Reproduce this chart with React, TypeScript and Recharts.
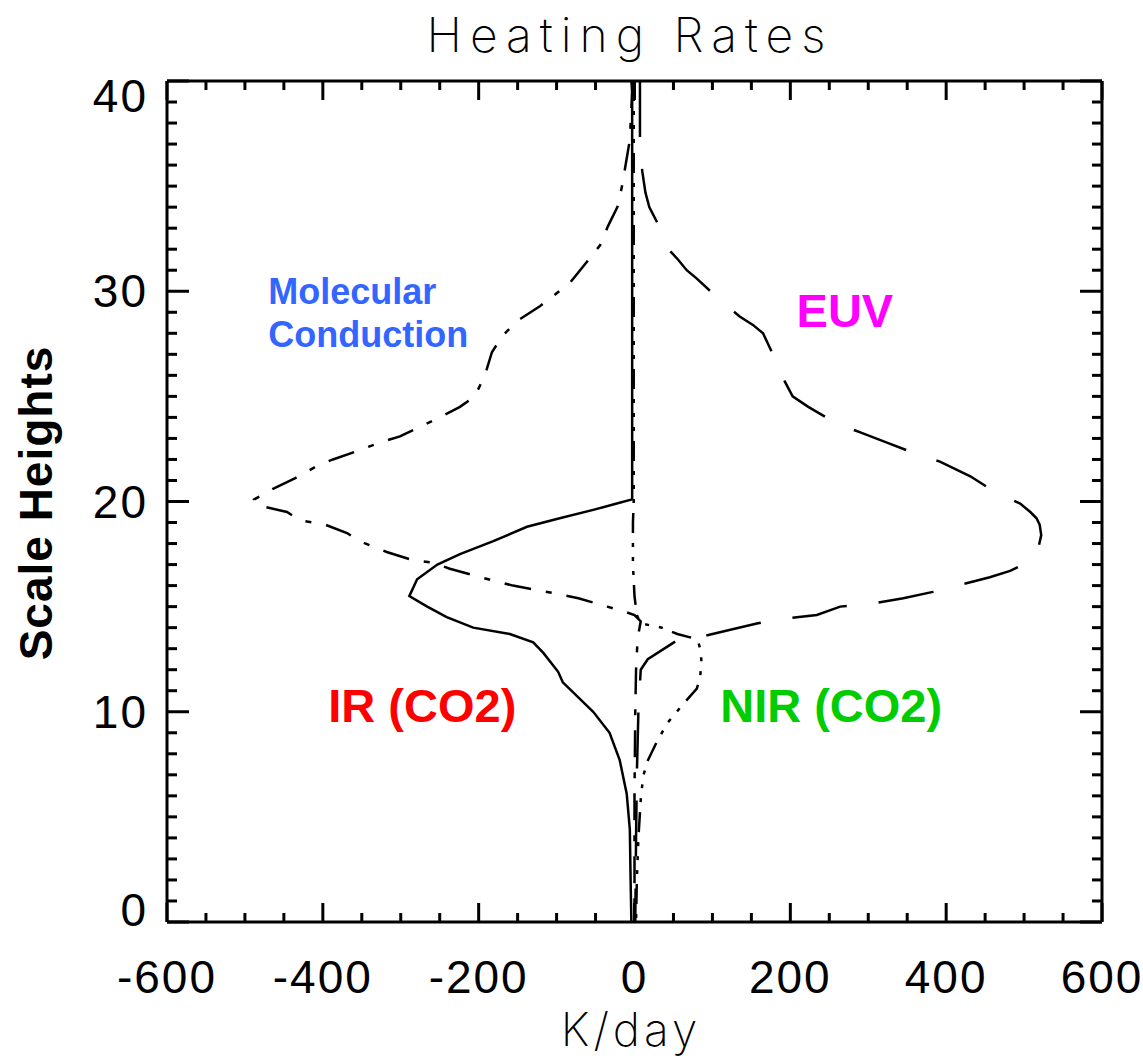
import { ScatterChart, Scatter, XAxis, YAxis, ReferenceDot } from 'recharts'

const W = 1143
const H = 1063

// tick positions (K/day and scale heights)
const xTicks = [-600, -550, -500, -450, -400, -350, -300, -250, -200, -150, -100, -50, 0, 50, 100, 150, 200, 250, 300, 350, 400, 450, 500, 550, 600]
const xMajor = [-600, -400, -200, 0, 200, 400, 600]
const yTicks = [0, 1, 2, 3, 4, 5, 6, 7, 8, 9, 10, 11, 12, 13, 14, 15, 16, 17, 18, 19, 20, 21, 22, 23, 24, 25, 26, 27, 28, 29, 30, 31, 32, 33, 34, 35, 36, 37, 38, 39, 40]
const yMajor = [0, 10, 20, 30, 40]

// [scale height, heating rate K/day]
const irProfile: [number, number][] = [
  [40, -3], [30, -3], [20.1, -3], [19.95, -18], [19.6, -53], [19.2, -96], [18.8, -138], [18.1, -182],
  [17.5, -224], [17.0, -253], [16.3, -279], [15.5, -289], [15.0, -266], [14.5, -241], [14.0, -207],
  [13.7, -160], [13.3, -130], [12.8, -117], [11.9, -98], [11.4, -92], [10.0, -53], [9.0, -32],
  [7.7, -19], [6.1, -10], [4.4, -6], [2, -5], [0, -4],
]

const conductionProfile: [number, number][] = [
  [40, -4], [39.5, -3], [37.2, -6], [35.0, -16], [34.0, -22], [33.1, -34], [32.2, -44], [31.4, -61],
  [30.4, -83], [29.9, -100], [29.3, -121], [28.6, -150], [27.9, -169], [27.1, -183], [26.0, -192],
  [25.0, -205], [24.5, -224], [24.0, -250], [23.5, -278], [23.1, -301], [22.8, -327], [22.4, -356],
  [22.0, -387], [21.7, -407], [21.1, -436], [20.6, -464], [20.1, -488], [19.8, -481], [19.5, -446],
  [19.1, -429], [18.9, -397], [18.5, -369], [18.1, -352], [17.6, -318], [17.2, -284], [17.1, -259],
  [16.8, -237], [16.4, -198], [16.0, -156], [15.7, -112], [15.4, -72], [15.0, -35], [14.8, -16],
  [14.6, 0], [14.3, 8], [13.5, 4], [12, 2], [10, 1], [6, 0], [0, 0],
]

const euvProfile: [number, number][] = [
  [40, 7], [38.1, 7], [36.8, 7], [35.7, 10], [34.7, 14], [34.0, 19], [32.7, 37], [31.9, 46],
  [31.5, 56], [31.0, 67], [30.6, 80], [29.5, 112], [28.8, 135], [28.4, 152], [28.0, 165],
  [26.5, 184], [25.7, 193], [25.0, 203], [24.5, 223], [23.7, 260], [23.3, 289], [22.8, 324],
  [22.2, 366], [21.9, 392], [21.2, 431], [20.4, 465], [19.9, 495], [19.5, 508], [19.2, 516],
  [18.9, 520], [18.4, 522], [17.9, 519], [17.5, 514], [17.0, 499], [16.7, 482], [16.4, 456],
  [16.0, 414], [15.7, 383], [15.4, 345], [15.1, 298], [15.0, 264], [14.6, 234], [14.4, 187],
  [14.2, 157], [13.9, 123], [13.5, 78], [13.4, 55], [12.5, 17], [12.0, 8], [10, 5], [7, 3],
  [4, 2], [0, 1],
]

const nirProfile: [number, number][] = [
  [40, -1], [20, -1], [19, -2], [17, -2], [15.5, 0], [14.6, 3], [14.2, 8], [14.0, 35], [13.7, 55],
  [13.5, 75], [13.3, 82], [12.9, 85], [12.3, 86], [11.6, 84], [11.1, 80], [10.3, 61], [9.5, 43],
  [8.6, 29], [7.6, 16], [6.9, 11], [5.8, 8], [4, 5], [2, 3], [0, 2],
]

const toPoints = (p: [number, number][]) => p.map(([h, r]) => ({ x: r, y: h }))

const tickFont = {
  fontFamily: '"Liberation Sans", Arial, sans-serif',
  fontSize: 46,
  letterSpacing: 2,
  fill: '#000',
}

function BottomTick(p: any) {
  const v = p.payload.value
  const major = xMajor.includes(v)
  return (
    <g>
      <line x1={p.x} x2={p.x} y1={p.y} y2={p.y - (major ? 19 : 9)} stroke="#000" strokeWidth={3} />
      {major && (
        <text x={p.x} y={p.y + 71} textAnchor="middle" {...tickFont}>
          {v}
        </text>
      )}
    </g>
  )
}

function TopTick(p: any) {
  const major = xMajor.includes(p.payload.value)
  return <line x1={p.x} x2={p.x} y1={p.y} y2={p.y + (major ? 19 : 9)} stroke="#000" strokeWidth={3} />
}

function LeftTick(p: any) {
  const v = p.payload.value
  const major = yMajor.includes(v)
  // IDL keeps the end labels inside the box height
  const dy = v === 40 ? 31 : v === 0 ? 4 : 16
  return (
    <g>
      <line x1={p.x} x2={p.x + (major ? 22 : 10)} y1={p.y} y2={p.y} stroke="#000" strokeWidth={3} />
      {major && (
        <text x={p.x - 19} y={p.y + dy} textAnchor="end" {...tickFont}>
          {v}
        </text>
      )}
    </g>
  )
}

function RightTick(p: any) {
  const major = yMajor.includes(p.payload.value)
  return <line x1={p.x} x2={p.x - (major ? 22 : 10)} y1={p.y} y2={p.y} stroke="#000" strokeWidth={3} />
}

const noDot = () => <g />

function note(lines: string[], color: string, size: number) {
  return (p: any) => (
    <text x={p.cx} y={p.cy} fill={color} fontFamily='"Liberation Sans", Arial, sans-serif' fontWeight="bold" fontSize={size}>
      {lines.map((t, i) => (
        <tspan key={t} x={p.cx} dy={i === 0 ? 0 : size * 1.2}>
          {t}
        </tspan>
      ))}
    </text>
  )
}

const axisLine = { stroke: '#000', strokeWidth: 3 }
const thin = { fontFamily: 'Inter, "DejaVu Sans", sans-serif', fontWeight: 200 }

export default function App() {
  return (
    <div style={{ position: 'absolute', left: 0, top: 0, width: W, height: H, background: '#fff' }}>
      <ScatterChart width={W} height={H} margin={{ top: 80, right: 40, bottom: 41, left: 67 }}>
        <XAxis xAxisId="b" type="number" dataKey="x" domain={[-600, 600]} ticks={xTicks} interval={0}
          tickSize={0} tickMargin={0} tickLine={false} axisLine={axisLine} tick={BottomTick} height={100} allowDataOverflow />
        <XAxis xAxisId="t" orientation="top" type="number" dataKey="x" domain={[-600, 600]} ticks={xTicks} interval={0}
          tickSize={0} tickMargin={0} tickLine={false} axisLine={axisLine} tick={TopTick} height={1} allowDataOverflow />
        <YAxis yAxisId="l" type="number" dataKey="y" domain={[0, 40]} ticks={yTicks} interval={0}
          tickSize={0} tickMargin={0} tickLine={false} axisLine={axisLine} tick={LeftTick} width={100} allowDataOverflow />
        <YAxis yAxisId="r" orientation="right" type="number" dataKey="y" domain={[0, 40]} ticks={yTicks} interval={0}
          tickSize={0} tickMargin={0} tickLine={false} axisLine={axisLine} tick={RightTick} width={1} allowDataOverflow />

        {/* invisible series so the top / right box axes get drawn */}
        <Scatter xAxisId="t" yAxisId="r" data={toPoints(irProfile)} fill="none" shape={noDot} isAnimationActive={false} />

        <Scatter xAxisId="b" yAxisId="l" data={toPoints(irProfile)} fill="#000" shape={noDot}
          line={{ stroke: '#000', strokeWidth: 2.5 }} isAnimationActive={false} />
        <Scatter xAxisId="b" yAxisId="l" data={toPoints(conductionProfile)} fill="#000" shape={noDot}
          line={{ stroke: '#000', strokeWidth: 2.5, strokeDasharray: '27 15 6 15' }} isAnimationActive={false} />
        <Scatter xAxisId="b" yAxisId="l" data={toPoints(euvProfile)} fill="#000" shape={noDot}
          line={{ stroke: '#000', strokeWidth: 2.5, strokeDasharray: '56 32' }} isAnimationActive={false} />
        <Scatter xAxisId="b" yAxisId="l" data={toPoints(nirProfile)} fill="#000" shape={noDot}
          line={{ stroke: '#000', strokeWidth: 2.5, strokeDasharray: '20 10 4 10 4 10 4 10' }} isAnimationActive={false} />

        <ReferenceDot xAxisId="b" yAxisId="l" x={-470} y={29.4} r={0} shape={note(['Molecular', 'Conduction'], '#3366FF', 36)} />
        <ReferenceDot xAxisId="b" yAxisId="l" x={208} y={28.3} r={0} shape={note(['EUV'], '#FF00FF', 47)} />
        <ReferenceDot xAxisId="b" yAxisId="l" x={-393} y={9.5} r={0} shape={note(['IR (CO2)'], '#FF0000', 47)} />
        <ReferenceDot xAxisId="b" yAxisId="l" x={110} y={9.5} r={0} shape={note(['NIR (CO2)'], '#00CC00', 47)} />
      </ScatterChart>

      <svg width={W} height={H} style={{ position: 'absolute', left: 0, top: 0, pointerEvents: 'none' }}>
        <text x={630} y={52} textAnchor="middle" fontSize={48} letterSpacing={8} {...thin}>
          Heating Rates
        </text>
        <text x={631} y={1046} textAnchor="middle" fontSize={46} letterSpacing={4} {...thin}>
          K/day
        </text>
        <text x={52} y={503} transform="rotate(-90 52 503)" textAnchor="middle" fontSize={46}
          fontFamily='"Liberation Sans", Arial, sans-serif' fontWeight="bold" letterSpacing={1}>
          Scale Heights
        </text>
      </svg>
    </div>
  )
}
